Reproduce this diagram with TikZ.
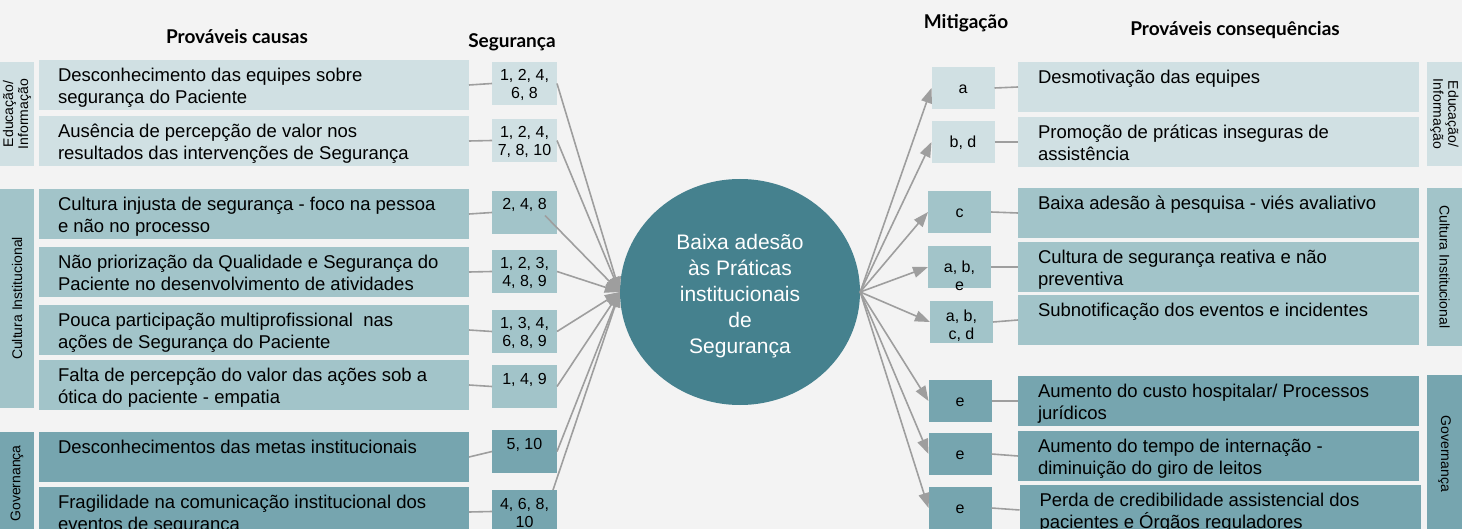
\documentclass[tikz,border=0pt]{standalone}
\usepackage{fontspec}
\setmainfont{Liberation Sans}
\newfontfamily\latofont{Lato}
\usetikzlibrary{shapes.geometric,arrows.meta,calc}
\definecolor{bgc}{HTML}{F3F3F3}
\definecolor{cyanA}{HTML}{D0E0E3}
\definecolor{cyanB}{HTML}{A2C4C9}
\definecolor{cyanC}{HTML}{76A5AF}
\definecolor{cyanD}{HTML}{45818E}
\definecolor{linegray}{HTML}{9E9E9E}
\newcommand\mybx[5]{\parbox[c][#2pt][t]{#1pt}{#3\rule{0pt}{#4pt}#5}}
\newcommand\causetxt[1]{\mybx{430}{50}{\raggedright\leftskip=19pt\relax}{21.6}{#1}}
\newcommand\segtxt[1]{\mybx{65}{43}{\centering}{19}{#1}}
\newcommand\mittxt[2]{\mybx{63}{42}{\centering}{#1}{#2}}
\newcommand\contxt[1]{\mybx{401}{50}{\raggedright\leftskip=20pt\relax}{21.5}{#1}}
\begin{document}
\begin{tikzpicture}[x=1pt,y=-1pt,
  box/.style={draw=none,inner sep=0pt,outer sep=0pt,anchor=north west},
  bigtxt/.style={box,font=\fontsize{18.5}{22}\selectfont},
  smalltxt/.style={box,font=\fontsize{16}{18}\selectfont},
  grp/.style={draw=none,inner sep=0pt,outer sep=0pt,align=center,
    font=\fontsize{14}{15}\selectfont},
  ttl/.style={anchor=base,inner sep=0pt,font=\latofont\bfseries\fontsize{19}{22}\selectfont},
  conn/.style={draw=linegray,line width=1.6pt},
  arr/.style={conn,-{Triangle[length=15pt,width=11pt]}}]
\fill[bgc] (0,0) rectangle (1462,529);
\useasboundingbox (0,0) rectangle (1462,529);

% titles
\node[ttl] (tcausas) at (237,44) {Prováveis causas};
\node[ttl] (tseg) at (512,47.5) {Segurança};
\node[ttl] (tmit) at (966,28.5) {Mitigação};
\node[ttl] (tcons) at (1235,36) {Prováveis consequências};

% left group labels
\node[grp,fill=cyanA,rotate=90,minimum width=104pt,minimum height=34pt] (gl1) at (17,114) {Educação/\\Informação};
\node[grp,fill=cyanB,rotate=90,minimum width=219pt,minimum height=34pt] (gl2) at (17,298.5) {Cultura Institucional};
\node[grp,fill=cyanC,rotate=90,minimum width=103pt,minimum height=34pt] (gl3) at (17,483.5) {Governança};

% right group labels
\node[grp,fill=cyanA,rotate=-90,minimum width=104pt,minimum height=35pt] (gr1) at (1444.5,114) {Educação/\\Informação};
\node[grp,fill=cyanB,rotate=-90,minimum width=158pt,minimum height=35pt] (gr2) at (1444.5,267) {Cultura Institucional};
\node[grp,fill=cyanC,rotate=-90,minimum width=158pt,minimum height=35pt] (gr3) at (1444.5,454) {Governança};

% causes
\node[bigtxt,fill=cyanA] (c1) at (39,60) {\causetxt{Desconhecimento das equipes sobre\\segurança do Paciente}};
\node[bigtxt,fill=cyanA] (c2) at (39,116) {\causetxt{Ausência de percepção de valor nos\\resultados das intervenções de Segurança}};
\node[bigtxt,fill=cyanB] (c3) at (39,189) {\causetxt{Cultura injusta de segurança - foco na pessoa\\e não no processo}};
\node[bigtxt,fill=cyanB] (c4) at (39,247) {\causetxt{Não priorização da Qualidade e Segurança do\\Paciente no desenvolvimento de atividades}};
\node[bigtxt,fill=cyanB] (c5) at (39,305) {\causetxt{Pouca participação multiprofissional\ \ nas\\ações de Segurança do Paciente}};
\node[bigtxt,fill=cyanB] (c6) at (39,360) {\causetxt{Falta de percepção do valor das ações sob a\\ótica do paciente - empatia}};
\node[bigtxt,fill=cyanC] (c7) at (39,432) {\causetxt{Desconhecimentos das metas institucionais}};
\node[bigtxt,fill=cyanC] (c8) at (39,487) {\causetxt{Fragilidade na comunicação institucional dos\\eventos de segurança}};

% seguranca
\node[smalltxt,fill=cyanA] (s1) at (492,62) {\segtxt{1, 2, 4,\\6, 8}};
\node[smalltxt,fill=cyanA] (s2) at (492,119) {\segtxt{1, 2, 4,\\7, 8, 10}};
\node[smalltxt,fill=cyanB] (s3) at (492,191) {\segtxt{2, 4, 8}};
\node[smalltxt,fill=cyanB] (s4) at (492,250) {\segtxt{1, 2, 3,\\4, 8, 9}};
\node[smalltxt,fill=cyanB] (s5) at (492,310) {\segtxt{1, 3, 4,\\6, 8, 9}};
\node[smalltxt,fill=cyanB] (s6) at (492,365) {\segtxt{1, 4, 9}};
\node[smalltxt,fill=cyanC] (s7) at (492,430) {\segtxt{5, 10}};
\node[smalltxt,fill=cyanC] (s8) at (492,490) {\segtxt{4, 6, 8,\\10}};

% central
\node[ellipse,fill=cyanD,minimum width=240pt,minimum height=226pt,inner sep=0pt] (core) at (740,292) {};
\node[text=white,align=center,inner sep=0pt,font=\fontsize{21}{26}\selectfont] (coretxt) at (740,296)
  {Baixa adesão\\às Práticas\\institucionais\\de\\Segurança};

% mitigation
\node[smalltxt,fill=cyanA] (m1) at (931.5,67) {\mittxt{26.5}{a}};
\node[smalltxt,fill=cyanA] (m2) at (931.5,121) {\mittxt{26.5}{b, d}};
\node[smalltxt,fill=cyanB] (m3) at (928,191) {\mittxt{26.5}{c}};
\node[smalltxt,fill=cyanB] (m4) at (928,246) {\mittxt{26.5}{a, b,\\e}};
\node[smalltxt,fill=cyanB] (m5) at (930,301) {\mittxt{20.5}{a, b,\\c, d}};
\node[smalltxt,fill=cyanC] (m6) at (928.5,380) {\mittxt{26.5}{e}};
\node[smalltxt,fill=cyanC] (m7) at (928.5,433) {\mittxt{26.5}{e}};
\node[smalltxt,fill=cyanC] (m8) at (928.5,487) {\mittxt{26.5}{e}};

% consequences
\node[bigtxt,fill=cyanA] (q1) at (1018,62) {\contxt{Desmotivação das equipes}};
\node[bigtxt,fill=cyanA] (q2) at (1018,117) {\contxt{Promoção de práticas inseguras de\\assistência}};
\node[bigtxt,fill=cyanB] (q3) at (1018,188) {\contxt{Baixa adesão à pesquisa - viés avaliativo}};
\node[bigtxt,fill=cyanB] (q4) at (1018,242) {\contxt{Cultura de segurança reativa e não\\preventiva}};
\node[bigtxt,fill=cyanB] (q5) at (1018,295) {\contxt{Subnotificação dos eventos e incidentes}};
\node[bigtxt,fill=cyanC] (q6) at (1018,376) {\contxt{Aumento do custo hospitalar/ Processos\\jurídicos}};
\node[bigtxt,fill=cyanC] (q7) at (1018,431) {\contxt{Aumento do tempo de internação -\\diminuição do giro de leitos}};
\node[bigtxt,fill=cyanC] (q8) at (1019.5,485) {\contxt{Perda de credibilidade assistencial dos\\pacientes e Órgãos reguladores}};

% short connectors left
\foreach \i in {1,...,8} {\draw[conn] (c\i.east) -- (s\i.west);}
% short connectors right
\foreach \i in {1,...,8} {\draw[conn] (m\i.east) -- (q\i.west);}

% arrows to core
\draw[arr] (s1.east) -- (core.west);
\draw[arr] (s2.east) -- (core.west);
\draw[arr] ($(s3.east)+(-12,3)$) -- (core.west);
\draw[arr] (s4.east) -- (core.west);
\draw[arr] (s5.east) -- (core.west);
\draw[arr] (s6.east) -- (core.west);
\draw[arr] (s7.east) -- (core.west);
\draw[arr] ($(s8.north east)+(-4,0)$) -- (core.west);

% arrows from core
\foreach \i in {1,...,8} {\draw[arr] (core.east) -- (m\i.west);}
\end{tikzpicture}
\end{document}
